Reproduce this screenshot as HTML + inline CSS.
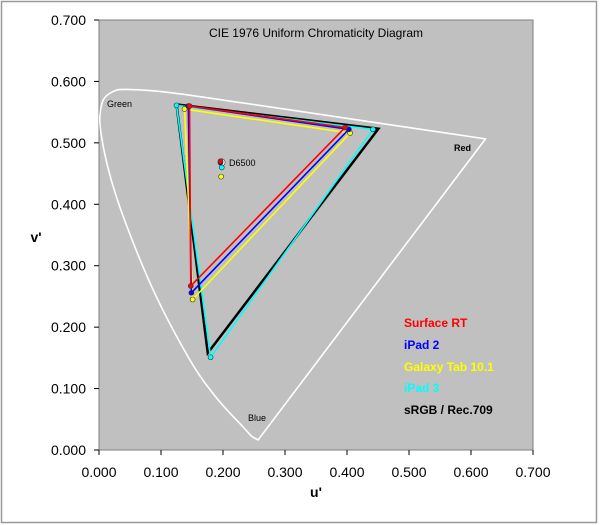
<!DOCTYPE html>
<html><head><meta charset="utf-8"><style>
body{margin:0;background:#fff;}
svg{display:block;font-family:"Liberation Sans",sans-serif;}
</style></head><body>
<svg width="600" height="525" viewBox="0 0 600 525">
<rect x="1.5" y="1.5" width="595" height="521" fill="#fff" stroke="#999" stroke-width="1.5"/>
<rect x="99" y="20" width="434" height="430" fill="#c0c0c0" stroke="#808080" stroke-width="1"/>
<text x="316" y="37" font-size="12" text-anchor="middle">CIE 1976 Uniform Chromaticity Diagram</text>
<g id="axes"></g>
<g id="locus"></g>
<g id="series"></g>
<text x="107" y="107" font-size="9">Green</text>
<text x="454" y="151" font-size="9" font-weight="bold">Red</text>
<text x="248" y="421" font-size="9">Blue</text>
<text x="229" y="166" font-size="9">D6500</text>
<g font-size="12" font-weight="bold">
<text x="404" y="327" fill="#ff0000">Surface RT</text>
<text x="404" y="349" fill="#0000ff">iPad 2</text>
<text x="404" y="371" fill="#ffff00">Galaxy Tab 10.1</text>
<text x="404" y="392" fill="#00ffff">iPad 3</text>
<text x="404" y="414" fill="#000">sRGB / Rec.709</text>
</g>
<text x="36" y="242" font-size="14" font-weight="bold" text-anchor="middle">v'</text>
<text x="316" y="497" font-size="14" font-weight="bold" text-anchor="middle">u'</text>
</svg>
<script>
const xTicks=[0,0.1,0.2,0.3,0.4,0.5,0.6,0.7];
const yTicks=[0,0.1,0.2,0.3,0.4,0.5,0.6,0.7];
const seriesNames=["sRGB","iPad 3","Galaxy Tab 10.1","iPad 2","Surface RT"];
const seriesColors=["#000000","#00ffff","#ffff00","#0000ff","#ff0000"];
const redU=[0.4507,0.442,0.405,0.403,0.397];
const redV=[0.5229,0.522,0.516,0.522,0.525];
const greenU=[0.125,0.125,0.138,0.144,0.146];
const greenV=[0.5625,0.561,0.555,0.560,0.560];
const blueU=[0.1754,0.180,0.151,0.149,0.148];
const blueV=[0.1579,0.151,0.245,0.256,0.267];
const whiteU=[0.1978,0.198,0.197,0.196,0.196];
const whiteV=[0.4683,0.460,0.445,0.468,0.470];
const locusU=[0.2568,0.2557,0.2461,0.2347,0.1877,0.1441,0.0828,0.0282,0.0035,0.0046,0.0231,0.0501,0.1127,0.2312,0.4035,0.5203,0.6234];
const locusV=[0.0166,0.0169,0.0226,0.035,0.0871,0.151,0.2708,0.4117,0.5131,0.5638,0.5837,0.5868,0.5821,0.5651,0.5393,0.5219,0.5065];
const NS='http://www.w3.org/2000/svg';
const X=u=>99+u*620, Y=v=>450-v*614.3;
function mk(t,a,p){const e=document.createElementNS(NS,t);for(const k in a)e.setAttribute(k,a[k]);p.appendChild(e);return e;}
const ax=document.getElementById('axes');
xTicks.forEach(t=>{
 const l=mk('line',{x1:X(t),x2:X(t),y1:450,y2:455,stroke:'#000'},ax);
 
 
 const s=mk('text',{x:X(t),y:477,'font-size':14,'text-anchor':'middle'},ax);s.textContent=t.toFixed(3);
 
 
});
yTicks.forEach(t=>{
 const l=mk('line',{x1:94,x2:99,y1:Y(t),y2:Y(t),stroke:'#000'},ax);
 
 
 const s=mk('text',{x:86,y:Y(t)+5,'font-size':14,'text-anchor':'end'},ax);s.textContent=t.toFixed(3);
 
 
});
const lg=document.getElementById('locus');
// smooth curve (Catmull-Rom) through locus points then close
const P=locusU.map((u,i)=>[X(u),Y(locusV[i])]);
let d='M'+P[0][0]+','+P[0][1];
for(let i=0;i<P.length-1;i++){const p0=P[i-1]||P[i],p1=P[i],p2=P[i+1],p3=P[i+2]||P[i+1];
 d+=` C${p1[0]+(p2[0]-p0[0])/6},${p1[1]+(p2[1]-p0[1])/6} ${p2[0]-(p3[0]-p1[0])/6},${p2[1]-(p3[1]-p1[1])/6} ${p2[0]},${p2[1]}`;}
d+='Z';
const lp=mk('path',{d:d,fill:'none',stroke:'#fff','stroke-width':1.6,'stroke-linejoin':'round'},lg);


const sg=document.getElementById('series');
seriesNames.forEach((n,i)=>{
 const pts=[[redU[i],redV[i]],[greenU[i],greenV[i]],[blueU[i],blueV[i]]];
 const pg=mk('polygon',{points:pts.map(p=>X(p[0])+','+Y(p[1])).join(' '),fill:'none',stroke:seriesColors[i],'stroke-width':i==0?2.5:1.6},sg);
 
 
 if(i>0){pts.forEach(p=>{const c=mk('circle',{cx:X(p[0]),cy:Y(p[1]),r:2.5,fill:seriesColors[i],stroke:'#333','stroke-width':0.6},sg);
  
  });}
});
seriesNames.forEach((n,i)=>{
 const c=mk('circle',{cx:X(whiteU[i]),cy:Y(whiteV[i]),r:i==0?3.5:2.5,fill:i==0?'#fff':seriesColors[i],stroke:'#333','stroke-width':0.6},sg);
 
 
});
</script>
</body></html>
